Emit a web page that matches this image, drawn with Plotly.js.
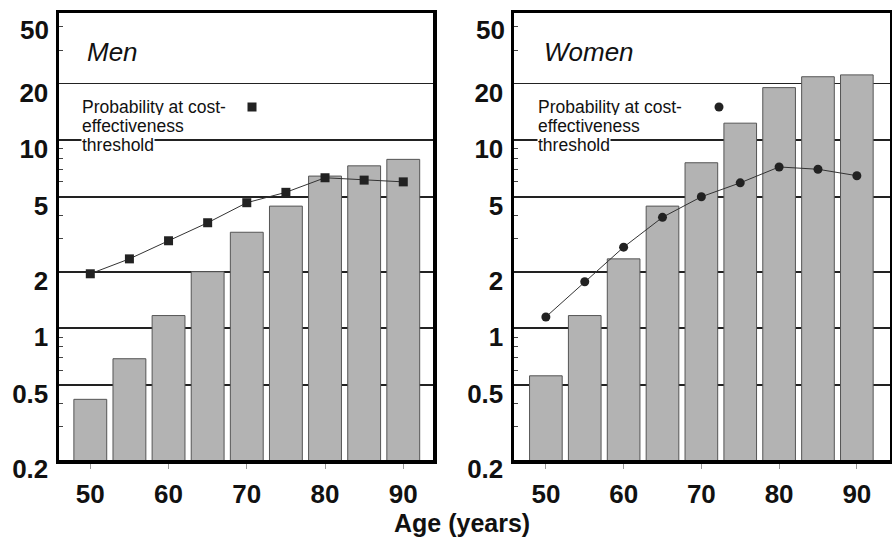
<!DOCTYPE html>
<html><head><meta charset="utf-8">
<script src="https://cdn.plot.ly/plotly-3.0.1.min.js"></script>
<style>html,body{margin:0;padding:0;background:#fff}#chart{width:892px;height:538px}</style>
</head><body><div id="chart"></div>
<script>
// ---- data ----
const ages = [50, 55, 60, 65, 70, 75, 80, 85, 90];
const menBars = [0.42, 0.69, 1.17, 2.0, 3.24, 4.46, 6.44, 7.3, 7.9];
const menThreshold = [1.95, 2.34, 2.92, 3.64, 4.65, 5.28, 6.31, 6.13, 6.0];
const womenBars = [0.56, 1.17, 2.34, 4.46, 7.58, 12.3, 19.0, 21.7, 22.2];
const womenThreshold = [1.15, 1.77, 2.7, 3.89, 5.0, 5.93, 7.2, 7.0, 6.47];
const yTickVals = [0.2, 0.5, 1, 2, 5, 10, 20];
const yTickText = ['0.2', '0.5', '1', '2', '5', '10', '20'];
const yTopLabel = '50';
const yMinorVals = [0.3, 0.4, 0.6, 0.7, 0.8, 0.9, 3, 4, 6, 7, 8, 9, 30, 40];
const xTickVals = [50, 60, 70, 80, 90];
const panelNames = ['Men', 'Women'];
const legendLines = ['Probability at cost-', 'effectiveness', 'threshold'];
const xAxisTitle = 'Age (years)';

// ---- layout helpers ----
const W = 892, H = 538;
const px = v => v / W;
const py = v => 1 - v / H;
const FONT = 'Liberation Sans, Arial, sans-serif';

const barStyle = {color: '#b3b3b3', line: {color: '#555', width: 1}};
const traces = [
  {type: 'bar', x: ages, y: menBars, marker: barStyle, xaxis: 'x', yaxis: 'y', showlegend: false, hoverinfo: 'skip'},
  {type: 'scatter', mode: 'lines', x: ages, y: menThreshold, line: {color: '#333', width: 1}, xaxis: 'x', yaxis: 'y', showlegend: false},
  {type: 'scatter', mode: 'markers', x: ages, y: menThreshold, name: '', marker: {symbol: 'square', size: 9, color: '#222'}, xaxis: 'x', yaxis: 'y', showlegend: true, legend: 'legend'},
  {type: 'bar', x: ages, y: womenBars, marker: barStyle, xaxis: 'x2', yaxis: 'y2', showlegend: false, hoverinfo: 'skip'},
  {type: 'scatter', mode: 'lines', x: ages, y: womenThreshold, line: {color: '#333', width: 1}, xaxis: 'x2', yaxis: 'y2', showlegend: false},
  {type: 'scatter', mode: 'markers', x: ages, y: womenThreshold, name: '', marker: {symbol: 'circle', size: 9, color: '#222'}, xaxis: 'x2', yaxis: 'y2', showlegend: true, legend: 'legend2'}
];

const yRange = [Math.log10(0.2), 1.675];
const yDomain = [1 - 460 / H, 1 - 13 / H];
const TICKFONT = {family: FONT, size: 26, color: '#111', weight: 'bold'};
function yAxis(anchor) {
  return {
    type: 'log', range: yRange, domain: yDomain, anchor: anchor,
    tickmode: 'array', tickvals: yTickVals, ticktext: yTickText,
    ticks: '', ticklabelstandoff: 2, ticklabelshift: 9,
    tickfont: TICKFONT,
    showgrid: true, gridcolor: '#222', gridwidth: 1.8,
    showline: true, mirror: true, linecolor: '#000', linewidth: 3.5,
    zeroline: false,
    minor: {tickmode: 'array', tickvals: yMinorVals, ticks: 'inside', ticklen: 4, tickcolor: '#444', tickwidth: 1, showgrid: false}
  };
}
function xAxis(domain, range, anchor) {
  return {
    domain: domain, range: range, anchor: anchor,
    tickmode: 'array', tickvals: xTickVals,
    ticks: 'outside', ticklen: 5, tickcolor: '#999', tickwidth: 1,
    ticklabelstandoff: 3,
    tickfont: TICKFONT,
    showgrid: false, zeroline: false,
    showline: true, mirror: true, linecolor: '#000', linewidth: 3.5
  };
}

const annotations = [];
function panelAnn(name, xLeft, offsetX, topLabelRight) {
  annotations.push({xref: 'paper', yref: 'paper', x: px(xLeft), y: py(52), xanchor: 'left', yanchor: 'middle',
    text: '<i>' + name + '</i>', showarrow: false, font: {family: FONT, size: 26, color: '#111'}});
  annotations.push({xref: 'paper', yref: 'paper', x: px(topLabelRight), y: py(30), xanchor: 'right', yanchor: 'middle',
    text: yTopLabel, showarrow: false, font: TICKFONT});
  const lineY = [106.5, 126, 144];
  legendLines.forEach((t, i) => {
    annotations.push({xref: 'paper', yref: 'paper', x: px(offsetX), y: py(lineY[i]), xanchor: 'left', yanchor: 'middle',
      text: t, showarrow: false, font: {family: FONT, size: 17.5, color: '#111'}, height: 17,
      bgcolor: i === 2 ? '#fff' : 'rgba(0,0,0,0)', borderpad: 0});
  });
}
panelAnn(panelNames[0], 85, 81, 51);
panelAnn(panelNames[1], 542, 537, 507);
annotations.push({xref: 'paper', yref: 'paper', x: px(462), y: 0, xanchor: 'center', yanchor: 'bottom',
  text: '<b>' + xAxisTitle + '</b>', showarrow: false, font: {family: FONT, size: 25, color: '#111'}, borderpad: 0});

const layout = {
  width: W, height: H,
  margin: {l: 0, r: 0, t: 0, b: 0},
  paper_bgcolor: '#fff', plot_bgcolor: '#fff',
  bargap: 0.16,
  xaxis: xAxis([59 / W, 433 / W], [46.0, 93.8], 'y'),
  yaxis: yAxis('x'),
  xaxis2: xAxis([514 / W, 889.5 / W], [45.9, 94.2], 'y2'),
  yaxis2: yAxis('x2'),
  legend: {x: px(252 - 20), y: py(107), xanchor: 'left', yanchor: 'middle', bgcolor: 'rgba(0,0,0,0)', borderwidth: 0, font: {size: 12}},
  legend2: {x: px(719 - 20), y: py(107), xanchor: 'left', yanchor: 'middle', bgcolor: 'rgba(0,0,0,0)', borderwidth: 0, font: {size: 12}},
  annotations: annotations,
  showlegend: true
};

Plotly.newPlot('chart', traces, layout, {displayModeBar: false, staticPlot: true});
</script></body></html>
